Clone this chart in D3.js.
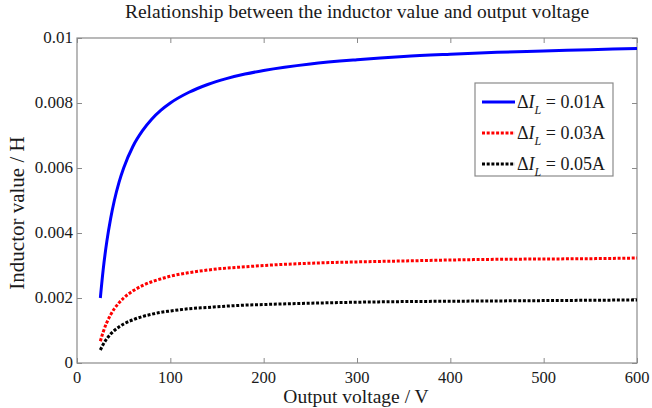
<!DOCTYPE html>
<html>
<head>
<meta charset="utf-8">
<script src="https://cdn.jsdelivr.net/npm/d3@7"></script>
<style>
  body { margin: 0; background: #fff; }
  text { font-family: "Liberation Serif", "DejaVu Serif", serif; fill: #1a1a1a; }
</style>
</head>
<body>
<svg id="chart"></svg>
<script>
// values
const voltage = [25, 28, 32, 36, 40, 45, 50, 60, 70, 80, 90, 100, 120, 140, 160, 180, 200, 250, 300, 350, 400, 450, 500, 550, 600];
const l001 = [0.0020, 0.00286, 0.00375, 0.00444, 0.0050, 0.00556, 0.0060, 0.00667, 0.00714, 0.0075, 0.00778, 0.0080, 0.00833, 0.00857, 0.00875, 0.00889, 0.0090, 0.0092, 0.00933, 0.00943, 0.0095, 0.00956, 0.0096, 0.00964, 0.00968];
const l003 = [0.00067, 0.00095, 0.00125, 0.00148, 0.00167, 0.00185, 0.0020, 0.00222, 0.00238, 0.0025, 0.00259, 0.00267, 0.00278, 0.00286, 0.00292, 0.00296, 0.0030, 0.00307, 0.00311, 0.00314, 0.00317, 0.00319, 0.0032, 0.00321, 0.00323];
const l005 = [0.0004, 0.00057, 0.00075, 0.00089, 0.0010, 0.00111, 0.0012, 0.00133, 0.00143, 0.0015, 0.00156, 0.0016, 0.00167, 0.00171, 0.00175, 0.00178, 0.0018, 0.00184, 0.00187, 0.00189, 0.0019, 0.00191, 0.00192, 0.00193, 0.00194];
const seriesNames = ["0.01A", "0.03A", "0.05A"];
const xTicks = [0, 100, 200, 300, 400, 500, 600];
const yTicks = [0, 0.002, 0.004, 0.006, 0.008, 0.01];
const yTickLabels = ["0", "0.002", "0.004", "0.006", "0.008", "0.01"];

const W = 652, H = 408;
const margin = { top: 38, right: 15, bottom: 45, left: 77 };
const width = W - margin.left - margin.right;
const height = H - margin.top - margin.bottom;

const svg = d3.select('#chart').attr('width', W).attr('height', H);
const chart = svg.append('g').attr('transform', `translate(${margin.left},${margin.top})`);

const x = d3.scaleLinear().domain([0, 600]).range([0, width]);
const y = d3.scaleLinear().domain([0, 0.01]).range([height, 0]);

const frameColor = '#8a8a8a';
const tickLen = 5;

// inward ticks on all four sides
chart.append('g').call(d3.axisBottom(x).tickValues(xTicks).tickSize(-tickLen).tickFormat(''))
  .attr('transform', `translate(0,${height})`);
chart.append('g').call(d3.axisTop(x).tickValues(xTicks).tickSize(-tickLen).tickFormat(''));
chart.append('g').call(d3.axisLeft(y).tickValues(yTicks).tickSize(-tickLen).tickFormat(''));
chart.append('g').call(d3.axisRight(y).tickValues(yTicks).tickSize(-tickLen).tickFormat(''))
  .attr('transform', `translate(${width},0)`);
chart.selectAll('.domain').remove();
chart.selectAll('.tick line').attr('stroke', frameColor);

chart.append('rect')
  .attr('width', width).attr('height', height)
  .attr('fill', 'none').attr('stroke', frameColor).attr('stroke-width', 1.2);

// tick labels (matlab style: x labels below, y labels to the left)
chart.selectAll('.xlab').data(xTicks).join('text')
  .attr('x', d => x(d)).attr('y', height + 20)
  .attr('text-anchor', 'middle').attr('font-size', 16.5)
  .text(d => d);
chart.selectAll('.ylab').data(yTicks).join('text')
  .attr('x', -4).attr('y', d => y(d) + 5)
  .attr('text-anchor', 'end').attr('font-size', 17)
  .text((d, i) => yTickLabels[i]);

// curves
const line = d3.line().curve(d3.curveMonotoneX);
const series = [
  { vals: l001, color: '#0000ff', dash: null },
  { vals: l003, color: '#ff0000', dash: '3,1.7' },
  { vals: l005, color: '#000000', dash: '3,1.7' }
];
series.forEach(s => {
  chart.append('path')
    .attr('d', line(voltage.map((v, i) => [x(v), y(s.vals[i])])))
    .attr('fill', 'none')
    .attr('stroke', s.color)
    .attr('stroke-width', 3)
    .attr('stroke-dasharray', s.dash);
});

// title + axis labels
svg.append('text')
  .attr('x', 357).attr('y', 17.5)
  .attr('text-anchor', 'middle').attr('font-size', 19.5)
  .text('Relationship between the inductor value and output voltage');
svg.append('text')
  .attr('x', 356).attr('y', 402.5)
  .attr('text-anchor', 'middle').attr('font-size', 19.5)
  .text('Output voltage / V');
svg.append('text')
  .attr('transform', 'translate(24,213) rotate(-90)')
  .attr('text-anchor', 'middle').attr('font-size', 21)
  .text('Inductor value / H');

// legend
const lg = svg.append('g').attr('transform', 'translate(475,83)');
lg.append('rect').attr('width', 138).attr('height', 93)
  .attr('fill', '#fff').attr('stroke', frameColor).attr('stroke-width', 1.2);
series.forEach((s, i) => {
  const cy = 19 + i * 31;
  lg.append('line')
    .attr('x1', 7).attr('x2', 40).attr('y1', cy).attr('y2', cy)
    .attr('stroke', s.color).attr('stroke-width', 3)
    .attr('stroke-dasharray', s.dash);
  const t = lg.append('text').attr('x', 42).attr('y', cy + 6).attr('font-size', 18);
  t.append('tspan').text('Δ');
  t.append('tspan').attr('font-style', 'italic').text('I');
  t.append('tspan').attr('font-style', 'italic').attr('font-size', 12).attr('dy', 6).text('L');
  t.append('tspan').attr('dy', -6).text(' = ' + seriesNames[i]);
});
</script>
</body>
</html>
